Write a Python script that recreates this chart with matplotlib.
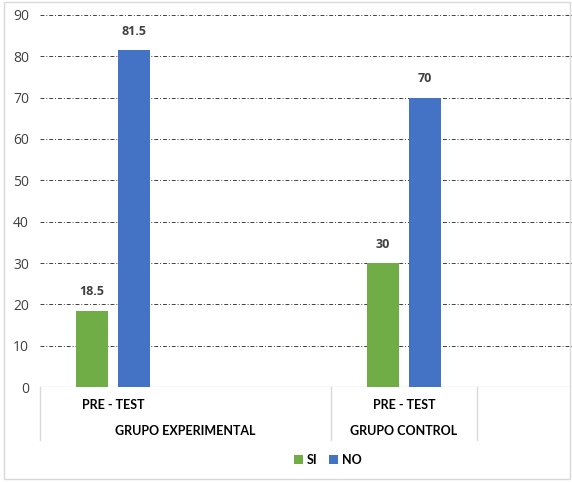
import matplotlib.pyplot as plt
import matplotlib.transforms as mtransforms
import numpy as np

plt.rcParams['font.family'] = ['Lato', 'DejaVu Sans']

# data
slots = ['PRE - TEST', '', 'PRE - TEST', '']
groups = ['GRUPO EXPERIMENTAL', 'GRUPO CONTROL']
group_span = [(0, 1), (2, 2)]
si = [18.5, np.nan, 30, np.nan]
no = [81.5, np.nan, 70, np.nan]

green = '#70AD47'
blue = '#4472C4'

fig = plt.figure(figsize=(5.72, 4.82), dpi=100)
ax = fig.add_axes([0.07, 0.197, 0.93, 0.772])

x = np.arange(len(slots))
w = 0.22
off = 0.144
b1 = ax.bar(x - off, si, w, color=green, label='SI', zorder=3)
b2 = ax.bar(x + off, no, w, color=blue, label='NO', zorder=3)

for xs, vals in [(x - off, si), (x + off, no)]:
    for xi, v in zip(xs, vals):
        if not np.isnan(v):
            ax.text(xi, v + 3, f'{v:g}', ha='center', va='bottom', fontsize=9,
                    fontweight='bold', color='#404040', family='Open Sans')

ax.set_ylim(0, 90)
ax.set_xlim(-0.5, 3.155)
ax.set_yticks(np.arange(0, 91, 10))
ax.tick_params(axis='y', length=0, labelsize=10, labelcolor='#404040', pad=8)
for t in ax.get_yticklabels():
    t.set_family('Open Sans')
ax.set_xticks([])
ax.yaxis.grid(True, linestyle=(0, (4, 2, 1, 2)), color='#404040', linewidth=0.7, zorder=0)
ax.axhline(0, color='#d9d9d9', linewidth=1, zorder=2)
for s in ax.spines.values():
    s.set_visible(False)

# multi-level category axis
trans = mtransforms.blended_transform_factory(ax.transData, fig.transFigure)
for xi, lab in zip(x, slots):
    if lab:
        ax.text(xi, 1 - 405 / 482, lab, transform=trans, ha='center', va='center',
                fontsize=9, fontweight='bold', color='black')
for (a, b), lab in zip(group_span, groups):
    ax.text((a + b) / 2, 1 - 431 / 482, lab, transform=trans, ha='center', va='center',
            fontsize=9, fontweight='bold', color='black')
for xs in [-0.5, 1.5, 2.5]:
    ax.plot([xs, xs], [1 - 387 / 482, 1 - 440 / 482], transform=trans,
            color='#d9d9d9', linewidth=1, clip_on=False)

fig.legend(handles=[b1, b2], loc='center', bbox_to_anchor=(0.573, 1 - 460 / 482),
           ncol=2, frameon=False, handlelength=0.7, handleheight=0.7,
           columnspacing=1.0, handletextpad=0.3, prop={'weight': 'bold', 'size': 9})

# light border around the chart
fig.patches.append(plt.Rectangle((0.007, 0.006), 0.99, 0.99, transform=fig.transFigure,
                                 fill=False, edgecolor='#d9d9d9', linewidth=1))

fig.savefig('out.png', dpi=100)
